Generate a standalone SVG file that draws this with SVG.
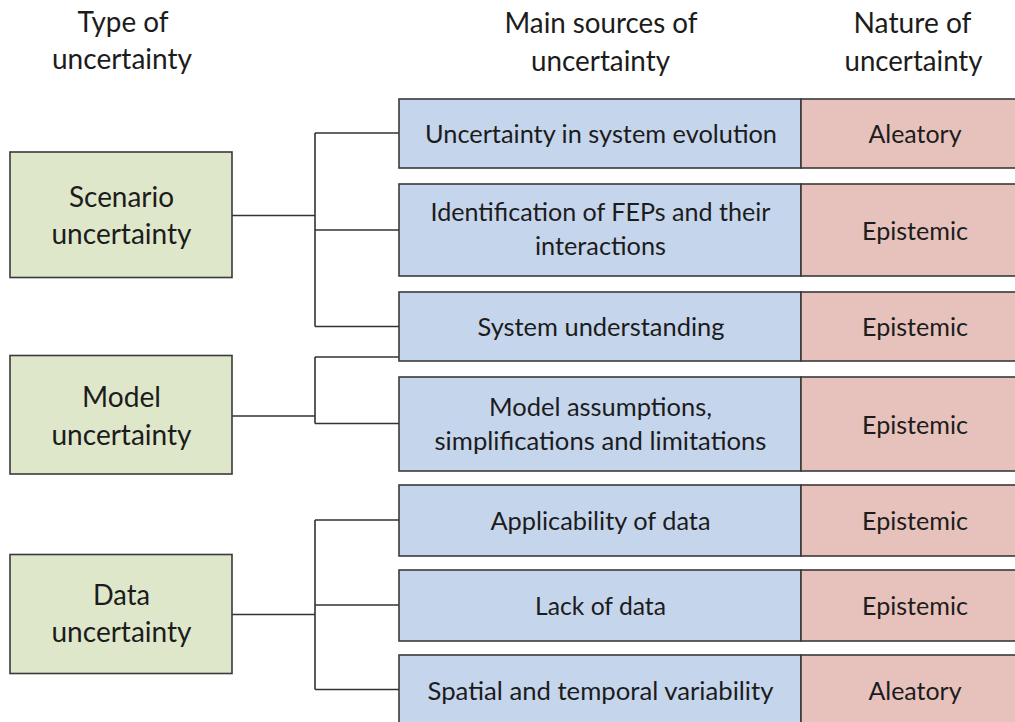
<svg xmlns="http://www.w3.org/2000/svg" width="1015" height="722" viewBox="0 0 1015 722">
<style>
  text { font-family: Lato, "Open Sans", "Liberation Sans", sans-serif; fill: #1c1c1c; text-anchor: middle; }
  .h { font-size: 28px; }
  .l { font-size: 28px; }
  .b { font-size: 25px; }
  .type { fill: #dfe7ca; stroke: #3a3a3a; stroke-width: 1.6; }
  .src { fill: #c5d5ec; stroke: #3a3a3a; stroke-width: 1.6; }
  .nat { fill: #e7c2bd; stroke: #3a3a3a; stroke-width: 1.6; }
  .conn path { fill: none; stroke: #333; stroke-width: 1.6; }
</style>
<rect width="1015" height="722" fill="#ffffff"/>

<g id="headers">
  <text class="h" x="123" y="32" textLength="91" lengthAdjust="spacingAndGlyphs">Type of</text>
  <text class="h" x="122" y="68.5" textLength="140" lengthAdjust="spacingAndGlyphs">uncertainty</text>
  <text class="h" x="601" y="33" textLength="193" lengthAdjust="spacingAndGlyphs">Main sources of</text>
  <text class="h" x="600.5" y="70.5" textLength="139" lengthAdjust="spacingAndGlyphs">uncertainty</text>
  <text class="h" x="912.5" y="33" textLength="118" lengthAdjust="spacingAndGlyphs">Nature of</text>
  <text class="h" x="913.5" y="70.5" textLength="138" lengthAdjust="spacingAndGlyphs">uncertainty</text>
</g>

<g id="connectors" class="conn">
  <path d="M232,215.5 H315 M315,133 V326.5 M315,133 H399 M315,230 H399 M315,326.5 H399"/>
  <path d="M232,416 H315 M315,357 V423.5 M315,357 H399 M315,423.5 H399"/>
  <path d="M232,614.5 H315 M315,520 V689.5 M315,520 H399 M315,605 H399 M315,689.5 H399"/>
</g>

<g id="scenario">
  <rect class="type" x="10" y="152" width="222" height="125.5"/>
  <text class="l" x="121.5" y="206.5" textLength="105" lengthAdjust="spacingAndGlyphs">Scenario</text>
  <text class="l" x="121.5" y="244" textLength="140" lengthAdjust="spacingAndGlyphs">uncertainty</text>
</g>
<g id="model">
  <rect class="type" x="10" y="355.5" width="222" height="118.5"/>
  <text class="l" x="121.5" y="407" textLength="79" lengthAdjust="spacingAndGlyphs">Model</text>
  <text class="l" x="121.5" y="444.5" textLength="140" lengthAdjust="spacingAndGlyphs">uncertainty</text>
</g>
<g id="data">
  <rect class="type" x="10" y="554.5" width="222" height="119"/>
  <text class="l" x="121.5" y="605" textLength="57" lengthAdjust="spacingAndGlyphs">Data</text>
  <text class="l" x="121.5" y="642" textLength="140" lengthAdjust="spacingAndGlyphs">uncertainty</text>
</g>

<g id="src1">
  <rect class="src" x="399" y="99" width="402" height="69"/>
  <text class="b" x="601" y="143" textLength="352" lengthAdjust="spacingAndGlyphs">Uncertainty in system evolution</text>
</g>
<g id="nat1">
  <rect class="nat" x="801" y="99" width="228" height="69"/>
  <text class="b" x="915" y="143" textLength="93" lengthAdjust="spacingAndGlyphs">Aleatory</text>
</g>

<g id="src2">
  <rect class="src" x="399" y="184" width="402" height="92"/>
  <text class="b" x="600.5" y="221" textLength="340" lengthAdjust="spacingAndGlyphs">Identification of FEPs and their</text>
  <text class="b" x="600.5" y="255" textLength="131" lengthAdjust="spacingAndGlyphs">interactions</text>
</g>
<g id="nat2">
  <rect class="nat" x="801" y="184" width="228" height="92"/>
  <text class="b" x="915" y="239.5" textLength="106" lengthAdjust="spacingAndGlyphs">Epistemic</text>
</g>

<g id="src3">
  <rect class="src" x="399" y="292" width="402" height="69"/>
  <text class="b" x="601" y="336" textLength="247" lengthAdjust="spacingAndGlyphs">System understanding</text>
</g>
<g id="nat3">
  <rect class="nat" x="801" y="292" width="228" height="69"/>
  <text class="b" x="915" y="336" textLength="106" lengthAdjust="spacingAndGlyphs">Epistemic</text>
</g>

<g id="src4">
  <rect class="src" x="399" y="377" width="402" height="94"/>
  <text class="b" x="600.5" y="416" textLength="223" lengthAdjust="spacingAndGlyphs">Model assumptions,</text>
  <text class="b" x="600.5" y="450" textLength="332" lengthAdjust="spacingAndGlyphs">simplifications and limitations</text>
</g>
<g id="nat4">
  <rect class="nat" x="801" y="377" width="228" height="94"/>
  <text class="b" x="915" y="433.5" textLength="106" lengthAdjust="spacingAndGlyphs">Epistemic</text>
</g>

<g id="src5">
  <rect class="src" x="399" y="485" width="402" height="71"/>
  <text class="b" x="600.5" y="530" textLength="220" lengthAdjust="spacingAndGlyphs">Applicability of data</text>
</g>
<g id="nat5">
  <rect class="nat" x="801" y="485" width="228" height="71"/>
  <text class="b" x="915" y="530" textLength="106" lengthAdjust="spacingAndGlyphs">Epistemic</text>
</g>

<g id="src6">
  <rect class="src" x="399" y="570" width="402" height="71"/>
  <text class="b" x="600.5" y="615" textLength="131" lengthAdjust="spacingAndGlyphs">Lack of data</text>
</g>
<g id="nat6">
  <rect class="nat" x="801" y="570" width="228" height="71"/>
  <text class="b" x="915" y="615" textLength="106" lengthAdjust="spacingAndGlyphs">Epistemic</text>
</g>

<g id="src7">
  <rect class="src" x="399" y="655" width="402" height="72"/>
  <text class="b" x="600.5" y="699.5" textLength="346" lengthAdjust="spacingAndGlyphs">Spatial and temporal variability</text>
</g>
<g id="nat7">
  <rect class="nat" x="801" y="655" width="228" height="72"/>
  <text class="b" x="915" y="699.5" textLength="93" lengthAdjust="spacingAndGlyphs">Aleatory</text>
</g>
</svg>
